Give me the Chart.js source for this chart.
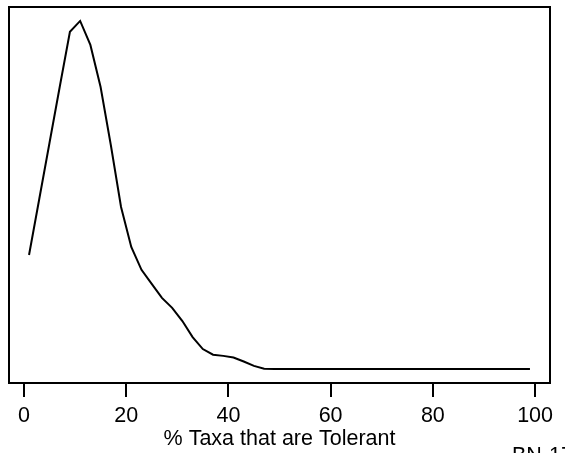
<!DOCTYPE html>
<html>
<head>
<meta charset="utf-8">
<script src="https://cdn.jsdelivr.net/npm/chart.js@4.4.1/dist/chart.umd.min.js"></script>
<style>
  html, body { margin: 0; padding: 0; background: #fff; }
  #wrap { width: 565px; height: 453px; }
</style>
</head>
<body>
<div id="wrap"><canvas id="densityChart" width="565" height="453"></canvas></div>
<script>
// % tolerant taxa (x) and estimated density (y)
const pctTolerant = [1, 3, 5, 7, 9, 11, 13, 15, 17, 19, 21, 23, 25, 27, 29, 31, 33, 35, 37, 39,
  41, 43, 45, 47, 49, 51, 53, 55, 57, 59, 61, 63, 65, 67, 69, 71, 73, 75, 77, 79,
  81, 83, 85, 87, 89, 91, 93, 95, 97, 99];
const density = [0.0285, 0.0425, 0.0565, 0.0705, 0.0843, 0.0870, 0.0810, 0.0705, 0.0560, 0.0405,
  0.0305, 0.0248, 0.0213, 0.0178, 0.0153, 0.0120, 0.0080, 0.0050, 0.0036, 0.0033,
  0.0029, 0.0019, 0.0008, 0.0001, 0, 0, 0, 0, 0, 0, 0, 0, 0, 0, 0, 0, 0, 0, 0, 0,
  0, 0, 0, 0, 0, 0, 0, 0, 0, 0];
const xTicks = [0, 20, 40, 60, 80, 100];
const xTitle = '% Taxa that are Tolerant';
const figTag = 'BN-17';

const FONT = 'Arial, "Liberation Sans", Helvetica, sans-serif';

// R-style 4% padding around the data range
const xSpan = pctTolerant[pctTolerant.length - 1] - pctTolerant[0];
const yMax = Math.max(...density), yMin = Math.min(...density);
const ySpan = yMax - yMin;

const boxPlugin = {
  id: 'box',
  afterDraw(chart) {
    const { ctx, chartArea: a } = chart;
    ctx.save();
    ctx.strokeStyle = '#000';
    ctx.lineWidth = 2;
    ctx.strokeRect(a.left, a.top, a.right - a.left, a.bottom - a.top);
    ctx.fillStyle = '#000';
    ctx.font = '21.5px ' + FONT;
    ctx.textBaseline = 'alphabetic';
    ctx.textAlign = 'left';
    ctx.fillText(figTag, 512, 462);
    ctx.restore();
  }
};

new Chart(document.getElementById('densityChart').getContext('2d'), {
  type: 'line',
  data: {
    datasets: [{
      data: pctTolerant.map((x, i) => ({ x, y: density[i] })),
      borderColor: '#000',
      borderWidth: 2,
      pointRadius: 0,
      tension: 0,
      fill: false,
    }],
  },
  options: {
    responsive: false,
    animation: false,
    layout: { padding: { left: 9, right: 15, top: 7, bottom: 0 } },
    plugins: { legend: { display: false }, tooltip: { enabled: false } },
    scales: {
      x: {
        type: 'linear',
        min: pctTolerant[0] - 0.04 * xSpan,
        max: pctTolerant[pctTolerant.length - 1] + 0.04 * xSpan,
        afterBuildTicks: s => { s.ticks = xTicks.map(v => ({ value: v })); },
        afterFit: s => { s.height = 70; },
        border: { display: true, color: '#000', width: 2 },
        grid: { drawOnChartArea: false, drawTicks: true, tickLength: 14, color: '#000', lineWidth: 2 },
        ticks: { color: '#000', padding: 6, maxRotation: 0, font: { family: FONT, size: 21.5 } },
        title: { display: true, text: xTitle, color: '#000', padding: { top: 0, bottom: 1 }, font: { family: FONT, size: 21.5 } },
      },
      y: {
        display: false,
        min: yMin - 0.04 * ySpan,
        max: yMax + 0.04 * ySpan,
      },
    },
  },
  plugins: [boxPlugin],
});
</script>
</body>
</html>
